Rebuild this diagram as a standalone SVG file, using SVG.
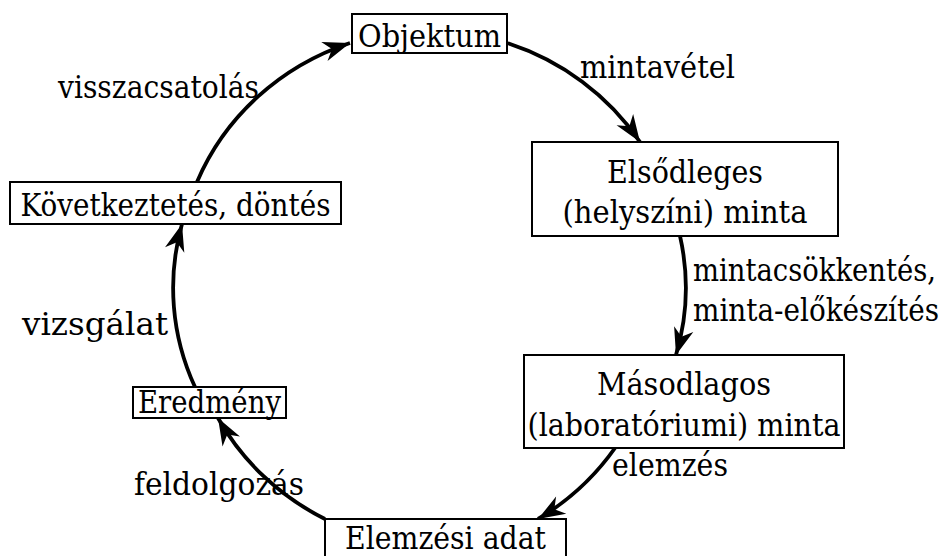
<svg xmlns="http://www.w3.org/2000/svg" width="946" height="556" viewBox="0 0 946 556">
<style>
.box{fill:#fff;stroke:#000;stroke-width:2}
.t{font-family:"DejaVu Serif",serif;font-size:32px;fill:#000}
.c{text-anchor:middle}
.arc{fill:none;stroke:#000;stroke-width:3.8;marker-end:url(#ah)}
</style>
<defs>
<marker id="ah" markerUnits="userSpaceOnUse" markerWidth="32" markerHeight="26" viewBox="-28 -13 32 26" refX="0" refY="0" orient="auto">
<path d="M0,0 L-27,-10 L-19,0 L-27,10 Z" fill="#000"/>
</marker>
</defs>
<rect width="946" height="556" fill="#fff"/>
<g id="connectors">
<path class="arc" d="M507,43 A256,245 0 0 1 640,142"/>
<path class="arc" d="M680,236 A256,245 0 0 1 676,355"/>
<path class="arc" d="M615,448 A256,245 0 0 1 538,519"/>
<path class="arc" d="M325,519 A256,245 0 0 1 218,418"/>
<path class="arc" d="M195,387 A256,245 0 0 1 182,224"/>
<path class="arc" d="M197,182 A256,245 0 0 1 350,43"/>
</g>
<g id="objektum"><rect class="box" x="352" y="14" width="155" height="39"/><text class="t c" x="429.5" y="47" textLength="143" lengthAdjust="spacingAndGlyphs">Objektum</text></g>
<g id="elsodleges"><rect class="box" x="532" y="142" width="306" height="94"/><text class="t c" x="685" y="183" textLength="156" lengthAdjust="spacingAndGlyphs">Elsődleges</text><text class="t c" x="685" y="223" textLength="245" lengthAdjust="spacingAndGlyphs">(helyszíni) minta</text></g>
<g id="masodlagos"><rect class="box" x="524" y="355" width="320" height="93"/><text class="t c" x="684" y="395" textLength="174" lengthAdjust="spacingAndGlyphs">Másodlagos</text><text class="t c" x="684" y="436" textLength="313" lengthAdjust="spacingAndGlyphs">(laboratóriumi) minta</text></g>
<g id="elemzesi-adat"><rect class="box" x="325" y="519" width="241" height="45"/><text class="t c" x="445.5" y="549" textLength="201" lengthAdjust="spacingAndGlyphs">Elemzési adat</text></g>
<g id="eredmeny"><rect class="box" x="133" y="387" width="153" height="31"/><text class="t c" x="209.5" y="413" textLength="143" lengthAdjust="spacingAndGlyphs">Eredmény</text></g>
<g id="kovetkeztetes"><rect class="box" x="10" y="182" width="331" height="42"/><text class="t c" x="175.5" y="216" textLength="310" lengthAdjust="spacingAndGlyphs">Következtetés, döntés</text></g>
<g id="labels">
<text class="t" x="580" y="78" textLength="155" lengthAdjust="spacingAndGlyphs">mintavétel</text>
<text class="t" x="58" y="98" textLength="201" lengthAdjust="spacingAndGlyphs">visszacsatolás</text>
<text class="t" x="693" y="281" textLength="243" lengthAdjust="spacingAndGlyphs">mintacsökkentés,</text>
<text class="t" x="693" y="321" textLength="246" lengthAdjust="spacingAndGlyphs">minta-előkészítés</text>
<text class="t" x="22" y="335" textLength="146" lengthAdjust="spacingAndGlyphs">vizsgálat</text>
<text class="t" x="612" y="476" textLength="116" lengthAdjust="spacingAndGlyphs">elemzés</text>
<text class="t" x="134" y="495" textLength="170" lengthAdjust="spacingAndGlyphs">feldolgozás</text>
</g>
</svg>
